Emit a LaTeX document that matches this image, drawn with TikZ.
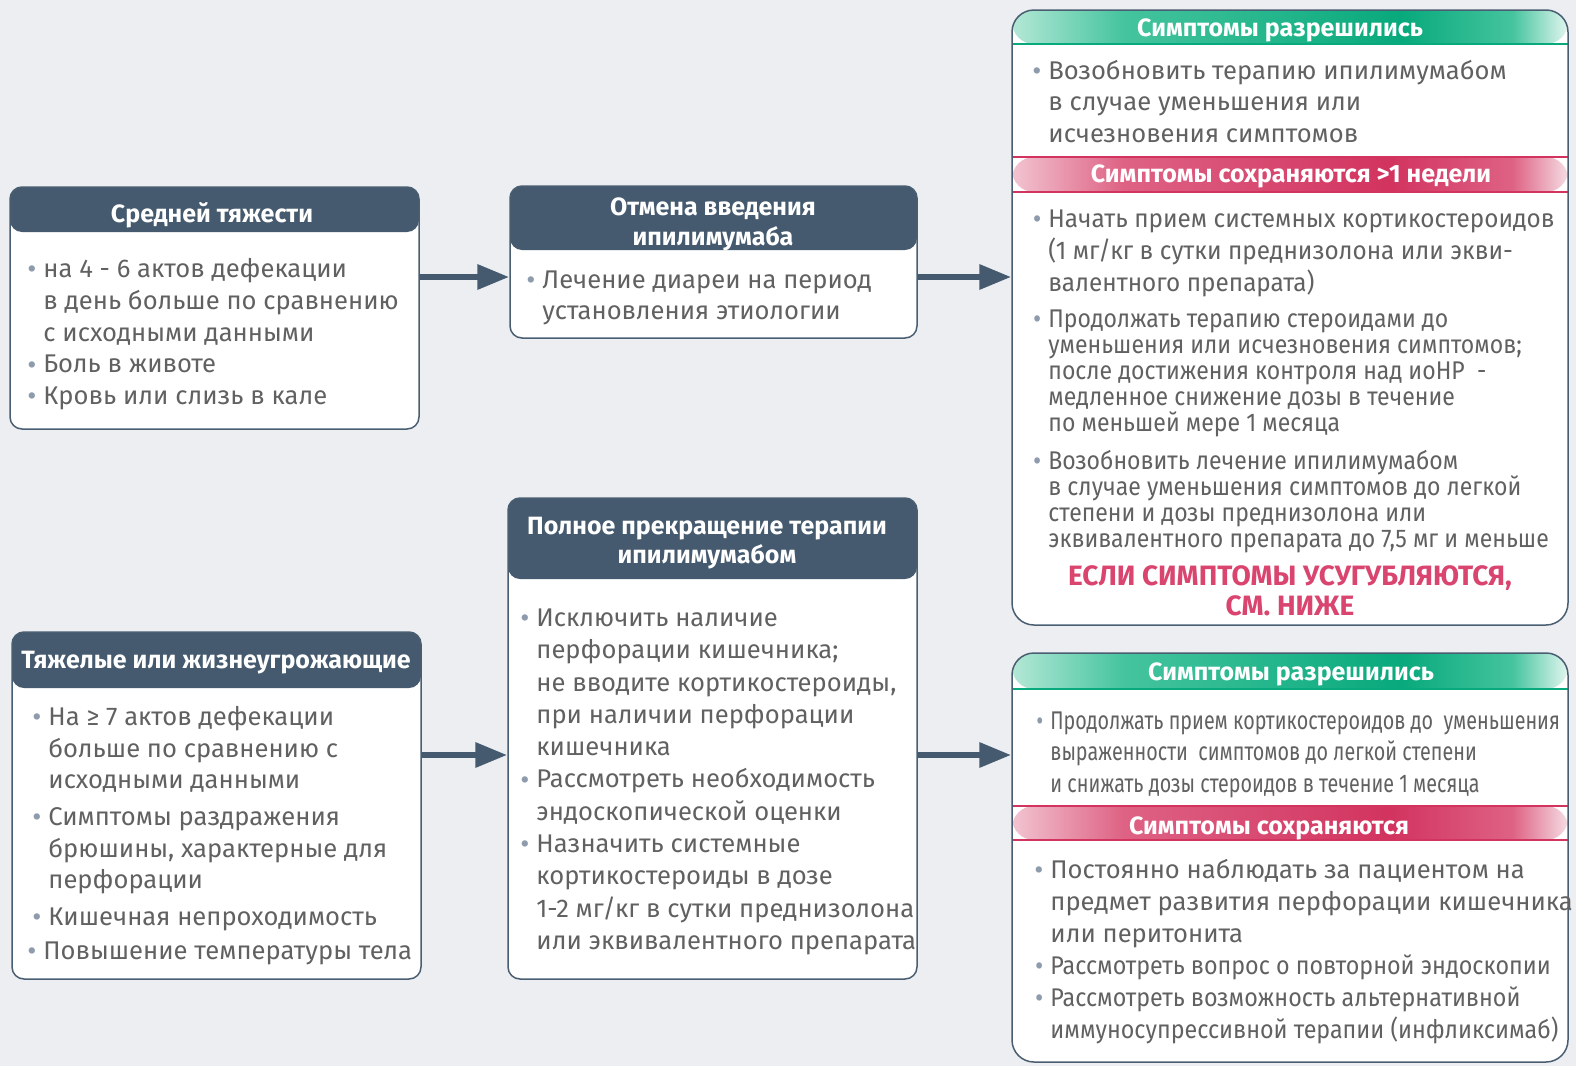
\documentclass[tikz,border=0pt]{standalone}
\usepackage{fontspec}
\setmainfont{Fira Sans}
\usetikzlibrary{arrows.meta,fit}

\definecolor{bgc}{HTML}{ECEEF2}
\definecolor{hdrc}{HTML}{455A6E}
\definecolor{linec}{HTML}{4A5E72}
\definecolor{txtc}{HTML}{616161}
\definecolor{bulc}{HTML}{8D9BAC}
\definecolor{redc}{HTML}{D9456E}
\definecolor{grnA}{HTML}{B4E8D6}
\definecolor{grnB}{HTML}{45C49E}
\definecolor{grnC}{HTML}{08A97C}
\definecolor{grnD}{HTML}{E2F6EF}
\definecolor{pnkA}{HTML}{F2C4D1}
\definecolor{pnkB}{HTML}{DE6284}
\definecolor{pnkC}{HTML}{D2335F}
\definecolor{pnkD}{HTML}{F5DCE3}

\pgfdeclarehorizontalshading{grnband}{100bp}{color(0bp)=(grnA); color(25bp)=(grnA); color(35bp)=(grnB); color(60bp)=(grnC); color(70bp)=(grnB); color(75bp)=(grnD); color(100bp)=(grnD)}
\pgfdeclarehorizontalshading{pnkband}{100bp}{color(0bp)=(pnkA); color(25bp)=(pnkA); color(35bp)=(pnkB); color(59bp)=(pnkC); color(70bp)=(pnkB); color(75bp)=(pnkD); color(100bp)=(pnkD)}

\newcommand\bul{\llap{\textcolor{bulc}{\fontsize{14}{14}\selectfont\raisebox{-0.6pt}{•}}\hspace{3.5pt}}}
\newcommand\fl{\rule{0pt}{10.5pt}}

\begin{document}
\begin{tikzpicture}[
    x=0.5pt,y=-0.5pt,
    box/.style={draw=linec, line width=0.75pt, fill=white, rounded corners=6pt, inner sep=0pt},
    rbox/.style={box, rounded corners=11pt},
    hdr/.style={path picture={\fill[hdrc] (path picture bounding box.north west)
                 rectangle ([yshift=-#1]path picture bounding box.north east);}},
    hdtxt/.style={anchor=base, inner sep=0pt, text=white, font=\bfseries\fontsize{12.5}{15}\selectfont},
    hdtwo/.style={hdtxt, anchor=north, align=center, font=\bfseries\fontsize{12.5}{#1}\selectfont},
    redtxt/.style={anchor=north, align=center, inner sep=0pt, text=redc, font=\bfseries\fontsize{14}{15}\selectfont},
    body/.style={anchor=north west, align=left, inner sep=0pt, text=txtc, font=\fontsize{12.8}{#1}\selectfont},
    body/.default=15.9,
    narrow/.style 2 args={font=\fontsize{12.8}{#2}\selectfont\addfontfeatures{FakeStretch=#1}},
    arrow/.style={hdrc, line width=3.2pt, -{Triangle[length=16pt,width=12pt]}}
]
\useasboundingbox (0,0) rectangle (1576,1066);
\fill[bgc] (0,0) rectangle (1576,1066);

% Moderate
\node[box, hdr=22.5pt, fit={(10,187) (419,429)}] (sevMod) {};
\node[hdtxt] (sevModH) at (212,222) {Средней тяжести};
\node[body] (sevModT) at (43,256) {\fl\bul на 4 - 6 актов дефекации\\в день больше по сравнению\\с исходными данными\\\bul Боль в животе\\\bul Кровь или слизь в кале};

% Stop dosing
\node[box, hdr=32pt, fit={(510,186) (917,338)}] (stopIpi) {};
\node[hdtwo=15] (stopIpiH) at (713,194) {\fl Отмена введения\\ипилимумаба};
\node[body=15.5] (stopIpiT) at (542,267) {\fl\bul Лечение диареи на период\\установления этиологии};

% Outcome (top)
\node[rbox, fit={(1012,10) (1568,625)}, path picture={
    \shade[shading=grnband] (path picture bounding box.north west) rectangle ([yshift=-17pt]path picture bounding box.north east);
    \draw[grnC, line width=0.7pt] ([yshift=-17pt]path picture bounding box.north west) -- ([yshift=-17pt]path picture bounding box.north east);
    \shade[shading=pnkband] ([yshift=-73.5pt]path picture bounding box.north west) rectangle ([yshift=-91pt]path picture bounding box.north east);
    \draw[pnkC, line width=0.7pt] ([yshift=-73.5pt]path picture bounding box.north west) -- ([yshift=-73.5pt]path picture bounding box.north east);
    \draw[pnkC, line width=0.7pt] ([yshift=-91pt]path picture bounding box.north west) -- ([yshift=-91pt]path picture bounding box.north east);
  }] (outTop) {};
\node[hdtxt] (outTopG) at (1280,36) {Симптомы разрешились};
\node[body=15.75] (outTopA) at (1048,58) {\fl\bul Возобновить терапию ипилимумабом\\в случае уменьшения или\\исчезновения симптомов};
\node[hdtxt] (outTopP) at (1291,182) {Симптомы сохраняются >1 недели};
\node[body, narrow={0.95}{16}] (outTopB) at (1048,206) {\fl\bul Начать прием системных кортикостероидов\\(1 мг/кг в сутки преднизолона или экви-\\валентного препарата)};
\node[body, narrow={0.9}{13}] (outTopC) at (1048,306) {\fl\bul Продолжать терапию стероидами до\\уменьшения или исчезновения симптомов;\\после достижения контроля над иоНР\ \ -\\медленное снижение дозы в течение\\по меньшей мере 1 месяца};
\node[body, narrow={0.9}{13}] (outTopD) at (1048,448) {\fl\bul Возобновить лечение ипилимумабом\\в случае уменьшения симптомов до легкой\\степени и дозы преднизолона или\\эквивалентного препарата до 7,5 мг и меньше};
\node[redtxt] (outTopR) at (1290,564) {\fl ЕСЛИ СИМПТОМЫ УСУГУБЛЯЮТСЯ,\\СМ. НИЖЕ};

% Severe
\node[box, hdr=28pt, fit={(12,632) (421,979)}] (sevHigh) {};
\node[hdtxt] (sevHighH) at (216,668) {Тяжелые или жизнеугрожающие};
\node[body=15.85] (sevHighT) at (48,704) {\fl\bul На ≥ 7 актов дефекации\\больше по сравнению с\\исходными данными\\[2.5pt]\bul Симптомы раздражения\\брюшины, характерные для\\перфорации\\[2.5pt]\bul Кишечная непроходимость\\[1pt]\hspace*{-2.5pt}\bul Повышение температуры тела};

% Stop therapy
\node[box, hdr=40.5pt, fit={(508,498) (917,979)}] (stopAll) {};
\node[hdtwo=14.5] (stopAllH) at (707,513) {\fl Полное прекращение терапии\\ипилимумабом};
\node[body=16.15] (stopAllT) at (536,605) {\fl\bul Исключить наличие\\перфорации кишечника;\\не вводите кортикостероиды,\\при наличии перфорации\\кишечника\\\bul Рассмотреть необходимость\\эндоскопической оценки\\\bul Назначить системные\\кортикостероиды в дозе\\1-2 мг/кг в сутки преднизолона\\или эквивалентного препарата};

% Outcome (bottom)
\node[rbox, fit={(1012,653) (1568,1062)}, path picture={
    \shade[shading=grnband] (path picture bounding box.north west) rectangle ([yshift=-18pt]path picture bounding box.north east);
    \draw[grnC, line width=0.7pt] ([yshift=-18pt]path picture bounding box.north west) -- ([yshift=-18pt]path picture bounding box.north east);
    \shade[shading=pnkband] ([yshift=-76.5pt]path picture bounding box.north west) rectangle ([yshift=-93.5pt]path picture bounding box.north east);
    \draw[pnkC, line width=0.7pt] ([yshift=-76.5pt]path picture bounding box.north west) -- ([yshift=-76.5pt]path picture bounding box.north east);
    \draw[pnkC, line width=0.7pt] ([yshift=-93.5pt]path picture bounding box.north west) -- ([yshift=-93.5pt]path picture bounding box.north east);
  }] (outBot) {};
\node[hdtxt] (outBotG) at (1291,680) {Симптомы разрешились};
\node[body, narrow={0.77}{15.75}] (outBotA) at (1050,708) {\fl\bul Продолжать прием кортикостероидов до\ \ уменьшения\\выраженности\ \ симптомов до легкой степени\\и снижать дозы стероидов в течение 1 месяца};
\node[hdtxt] (outBotP) at (1269,834) {Симптомы сохраняются};
\node[body=16] (outBotB) at (1050,857) {\fl\bul Постоянно наблюдать за пациентом на\\предмет развития перфорации кишечника\\или перитонита};
\node[body, narrow={0.91}{16}] (outBotC) at (1050,953) {\fl\bul Рассмотреть вопрос о повторной эндоскопии\\\bul Рассмотреть возможность альтернативной\\иммуносупрессивной терапии (инфликсимаб)};

% Connectors
\coordinate (rowA) at (0,277);
\coordinate (rowB) at (0,755);
\draw[arrow] (sevMod.east |- rowA) -- (stopIpi.west |- rowA);
\draw[arrow] (stopIpi.east |- rowA) -- (outTop.west |- rowA);
\draw[arrow] (sevHigh.east |- rowB) -- (stopAll.west |- rowB);
\draw[arrow] (stopAll.east |- rowB) -- (outBot.west |- rowB);
\end{tikzpicture}
\end{document}
